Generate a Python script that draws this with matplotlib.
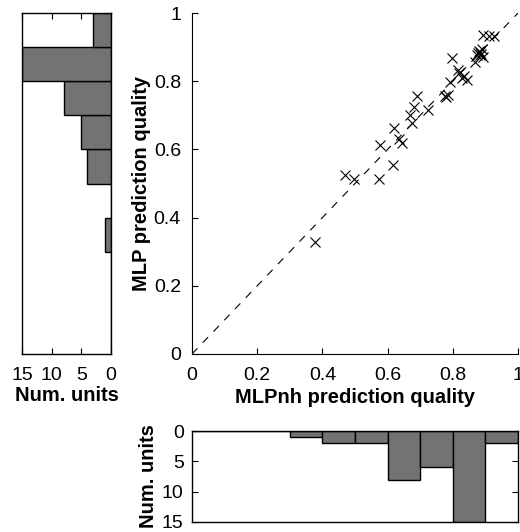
import numpy as np
import matplotlib
matplotlib.use('Agg')
import matplotlib.pyplot as plt

plt.rcParams['font.family'] = ['Liberation Sans', 'DejaVu Sans']

# prediction quality per unit
mlpnh = [0.377, 0.469, 0.497, 0.575, 0.577, 0.618, 0.621, 0.635, 0.643,
         0.669, 0.674, 0.681, 0.690, 0.725, 0.775, 0.780, 0.785, 0.791,
         0.797, 0.815, 0.820, 0.827, 0.835, 0.843, 0.868, 0.883, 0.880,
         0.886, 0.878, 0.889, 0.884, 0.892, 0.875, 0.894, 0.912, 0.925]
mlp = [0.328, 0.525, 0.512, 0.512, 0.613, 0.554, 0.664, 0.630, 0.620,
       0.701, 0.676, 0.725, 0.757, 0.717, 0.757, 0.755, 0.760, 0.799,
       0.867, 0.833, 0.823, 0.808, 0.815, 0.803, 0.857, 0.886, 0.890,
       0.880, 0.884, 0.893, 0.876, 0.872, 0.878, 0.935, 0.932, 0.932]
bins = np.linspace(0, 1, 11)
count_ticks = [0, 5, 10, 15]
bar_col = '#737373'

fig = plt.figure(figsize=(5.2, 5.32), dpi=100)

# main scatter
ax = fig.add_axes([192/520, 178/532, 326/520, 341/532])
ax.plot([0, 1], [0, 1], color='k', ls=(0, (7, 7)), lw=0.8)
ax.plot(mlpnh, mlp, 'x', color='k', ms=7, mew=0.8)
ax.set_xlim(0, 1)
ax.set_ylim(0, 1)
ax.set_xticks([0, 0.2, 0.4, 0.6, 0.8, 1])
ax.set_xticklabels(['0', '0.2', '0.4', '0.6', '0.8', '1'])
ax.set_yticks([0, 0.2, 0.4, 0.6, 0.8, 1])
ax.set_yticklabels(['0', '0.2', '0.4', '0.6', '0.8', '1'])
ax.spines['top'].set_visible(False)
ax.spines['right'].set_visible(False)
ax.tick_params(direction='in', length=4, labelsize=14)
ax.tick_params(axis='x', pad=9)
ax.tick_params(axis='y', pad=8)
ax.set_xlabel('MLPnh prediction quality', fontsize=14.5, fontweight='bold', labelpad=3)
ax.set_ylabel('MLP prediction quality', fontsize=14.5, fontweight='bold', labelpad=2)

# left histogram (MLP)
axl = fig.add_axes([22/520, 178/532, 89/520, 341/532])
axl.hist(mlp, bins=bins, orientation='horizontal', color=bar_col, edgecolor='k', lw=1)
axl.set_ylim(0, 1)
axl.set_xlim(15, 0)
axl.set_xticks(count_ticks)
axl.set_yticks([])
axl.tick_params(direction='in', length=4, labelsize=14, top=True, pad=9)
axl.set_xlabel('Num. units', fontsize=14.5, fontweight='bold', labelpad=2)

# bottom histogram (MLPnh)
axb = fig.add_axes([192/520, 10/532, 326/520, 91/532])
axb.hist(mlpnh, bins=bins, color=bar_col, edgecolor='k', lw=1)
axb.set_xlim(0, 1)
axb.set_ylim(15, 0)
axb.set_yticks(count_ticks)
axb.set_xticks([])
axb.tick_params(direction='in', length=4, labelsize=14, right=True, pad=6)
axb.set_ylabel('Num. units', fontsize=14.5, fontweight='bold', labelpad=3)

for a in (axl, axb):
    for s in a.spines.values():
        s.set_linewidth(1)

fig.savefig('out.png', dpi=100)
